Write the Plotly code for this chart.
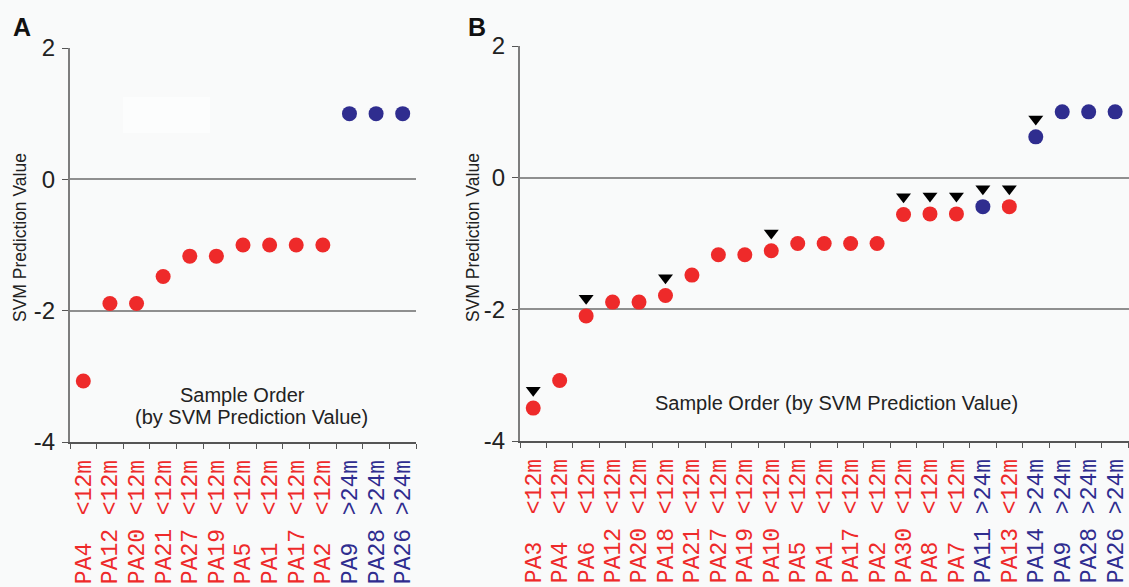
import plotly.graph_objects as go

# ---- data -------------------------------------------------------------
a_samples = ["PA4", "PA12", "PA20", "PA21", "PA27", "PA19", "PA5", "PA1",
             "PA17", "PA2", "PA9", "PA28", "PA26"]
a_groups = ["<12m"] * 10 + [">24m"] * 3
a_values = [-3.07, -1.89, -1.89, -1.48, -1.17, -1.17, -1.0, -1.0, -1.0, -1.0,
            1.0, 1.0, 1.0]

b_samples = ["PA3", "PA4", "PA6", "PA12", "PA20", "PA18", "PA21", "PA27",
             "PA19", "PA10", "PA5", "PA1", "PA17", "PA2", "PA30", "PA8",
             "PA7", "PA11", "PA13", "PA14", "PA9", "PA28", "PA26"]
b_groups = ["<12m"] * 17 + [">24m", "<12m", ">24m", ">24m", ">24m", ">24m"]
b_values = [-3.5, -3.08, -2.1, -1.89, -1.89, -1.79, -1.48, -1.17, -1.17,
            -1.11, -1.0, -1.0, -1.0, -1.0, -0.56, -0.55, -0.55, -0.44, -0.44,
            0.62, 1.0, 1.0, 1.0]
b_flagged = ["PA3", "PA6", "PA18", "PA10", "PA30", "PA8", "PA7", "PA11",
             "PA13", "PA14"]

y_ticks = [-4, -2, 0, 2]
y_ticktext = ["-4", "-2", "0", "2"]

# ---- styling ----------------------------------------------------------
RED = "#ee2a2a"
BLUE = "#2f2d8f"
BG = "#f9fafa"
GROUP_COLOR = {"<12m": RED, ">24m": BLUE}
NB = "\u00a0"

W, H = 1129, 587


def tick_label(name, group):
    txt = name.ljust(4).replace(" ", NB) + NB + group
    return f'<span style="color:{GROUP_COLOR[group]}">{txt}</span>'


def px_x(p):
    return p / W


def px_y(p):
    return (H - p) / H


fig = go.Figure()

# Panel A dots
fig.add_trace(go.Scatter(
    x=a_samples, y=a_values, mode="markers",
    marker=dict(size=15, color=[GROUP_COLOR[g] for g in a_groups]),
    xaxis="x", yaxis="y", showlegend=False, hoverinfo="skip"))

# Panel B dots
fig.add_trace(go.Scatter(
    x=b_samples, y=b_values, mode="markers",
    marker=dict(size=15, color=[GROUP_COLOR[g] for g in b_groups]),
    xaxis="x2", yaxis="y2", showlegend=False, hoverinfo="skip"))

# Panel B flag triangles: one above each flagged dot, one under the axis
flag_x = [s for s in b_samples if s in b_flagged]
flag_v = [v for s, v in zip(b_samples, b_values) if s in b_flagged]
above_gap = 0.27
fig.add_trace(go.Scatter(
    x=flag_x, y=[v + above_gap for v in flag_v], mode="markers",
    marker=dict(symbol="triangle-down", size=13, color="#000000"),
    xaxis="x2", yaxis="y2", showlegend=False, hoverinfo="skip"))
below_axis = min(y_ticks) - 0.17
fig.add_trace(go.Scatter(
    x=flag_x, y=[below_axis] * len(flag_x), mode="markers",
    marker=dict(symbol="triangle-down", size=13, color="#000000"),
    cliponaxis=False,
    xaxis="x2", yaxis="y2", showlegend=False, hoverinfo="skip"))

xaxis_common = dict(
    type="category", showline=True, linecolor="#555555", linewidth=1.5,
    ticks="outside", ticklen=5, tickcolor="#555555", tickwidth=1.2,
    tickson="boundaries", tickangle=-90, showgrid=False, zeroline=False,
    tickfont=dict(family="Liberation Mono", size=23),
    ticklabelstandoff=7, automargin=False, fixedrange=True)

yaxis_common = dict(
    range=[-4, 2], tickvals=y_ticks, ticktext=y_ticktext,
    showline=True, linecolor="#7d7d7d", linewidth=2,
    ticks="outside", ticklen=6, tickcolor="#555555", tickwidth=1.2,
    showgrid=True, gridcolor="#8f8f8f", gridwidth=1.5, zeroline=False,
    tickfont=dict(family="Liberation Sans", size=24, color="#222222"),
    ticklabelstandoff=2, automargin=False, fixedrange=True)

fig.update_layout(
    width=W, height=H,
    margin=dict(l=0, r=0, t=0, b=0),
    paper_bgcolor=BG, plot_bgcolor=BG,
    font=dict(family="Liberation Sans", color="#222222"),
    xaxis=dict(xaxis_common, domain=[px_x(70), px_x(416)],
               range=[-0.5, len(a_samples) - 0.5],
               tickvals=a_samples,
               ticktext=[tick_label(s, g) for s, g in zip(a_samples, a_groups)],
               anchor="y"),
    yaxis=dict(yaxis_common, domain=[px_y(442), px_y(48)], anchor="x"),
    xaxis2=dict(xaxis_common, domain=[px_x(520), 1.0],
                range=[-0.5, -0.5 + (W - 520) / 26.45],
                tickvals=b_samples,
                ticktext=[tick_label(s, g) for s, g in zip(b_samples, b_groups)],
                anchor="y2"),
    yaxis2=dict(yaxis_common, domain=[px_y(441), px_y(46)], anchor="x2"),
)

# faint light patch inside panel A
fig.add_shape(type="rect", xref="paper", yref="paper",
              x0=px_x(123), x1=px_x(210), y0=px_y(133), y1=px_y(97),
              fillcolor="#fcfdfd", line=dict(width=0), layer="below")

ann = []
# panel letters
ann.append(dict(text="<b>A</b>", x=px_x(22), y=px_y(27), font=dict(size=25, color="#111111")))
ann.append(dict(text="<b>B</b>", x=px_x(477), y=px_y(27), font=dict(size=25, color="#111111")))
# y titles
for xc in (20, 473):
    ann.append(dict(text="SVM Prediction Value", textangle=-90,
                    x=px_x(xc), y=px_y(238), font=dict(size=17.5)))
# x titles
ann.append(dict(text="Sample Order", x=px_x(242), y=px_y(395), font=dict(size=20)))
ann.append(dict(text="(by SVM Prediction Value)", x=px_x(251), y=px_y(417), font=dict(size=20)))
ann.append(dict(text="Sample Order (by SVM Prediction Value)", x=px_x(836),
                y=px_y(403), font=dict(size=20)))

for a in ann:
    a.update(xref="paper", yref="paper", showarrow=False,
             xanchor="center", yanchor="middle")
fig.update_layout(annotations=ann)

fig.write_html("out.html")
